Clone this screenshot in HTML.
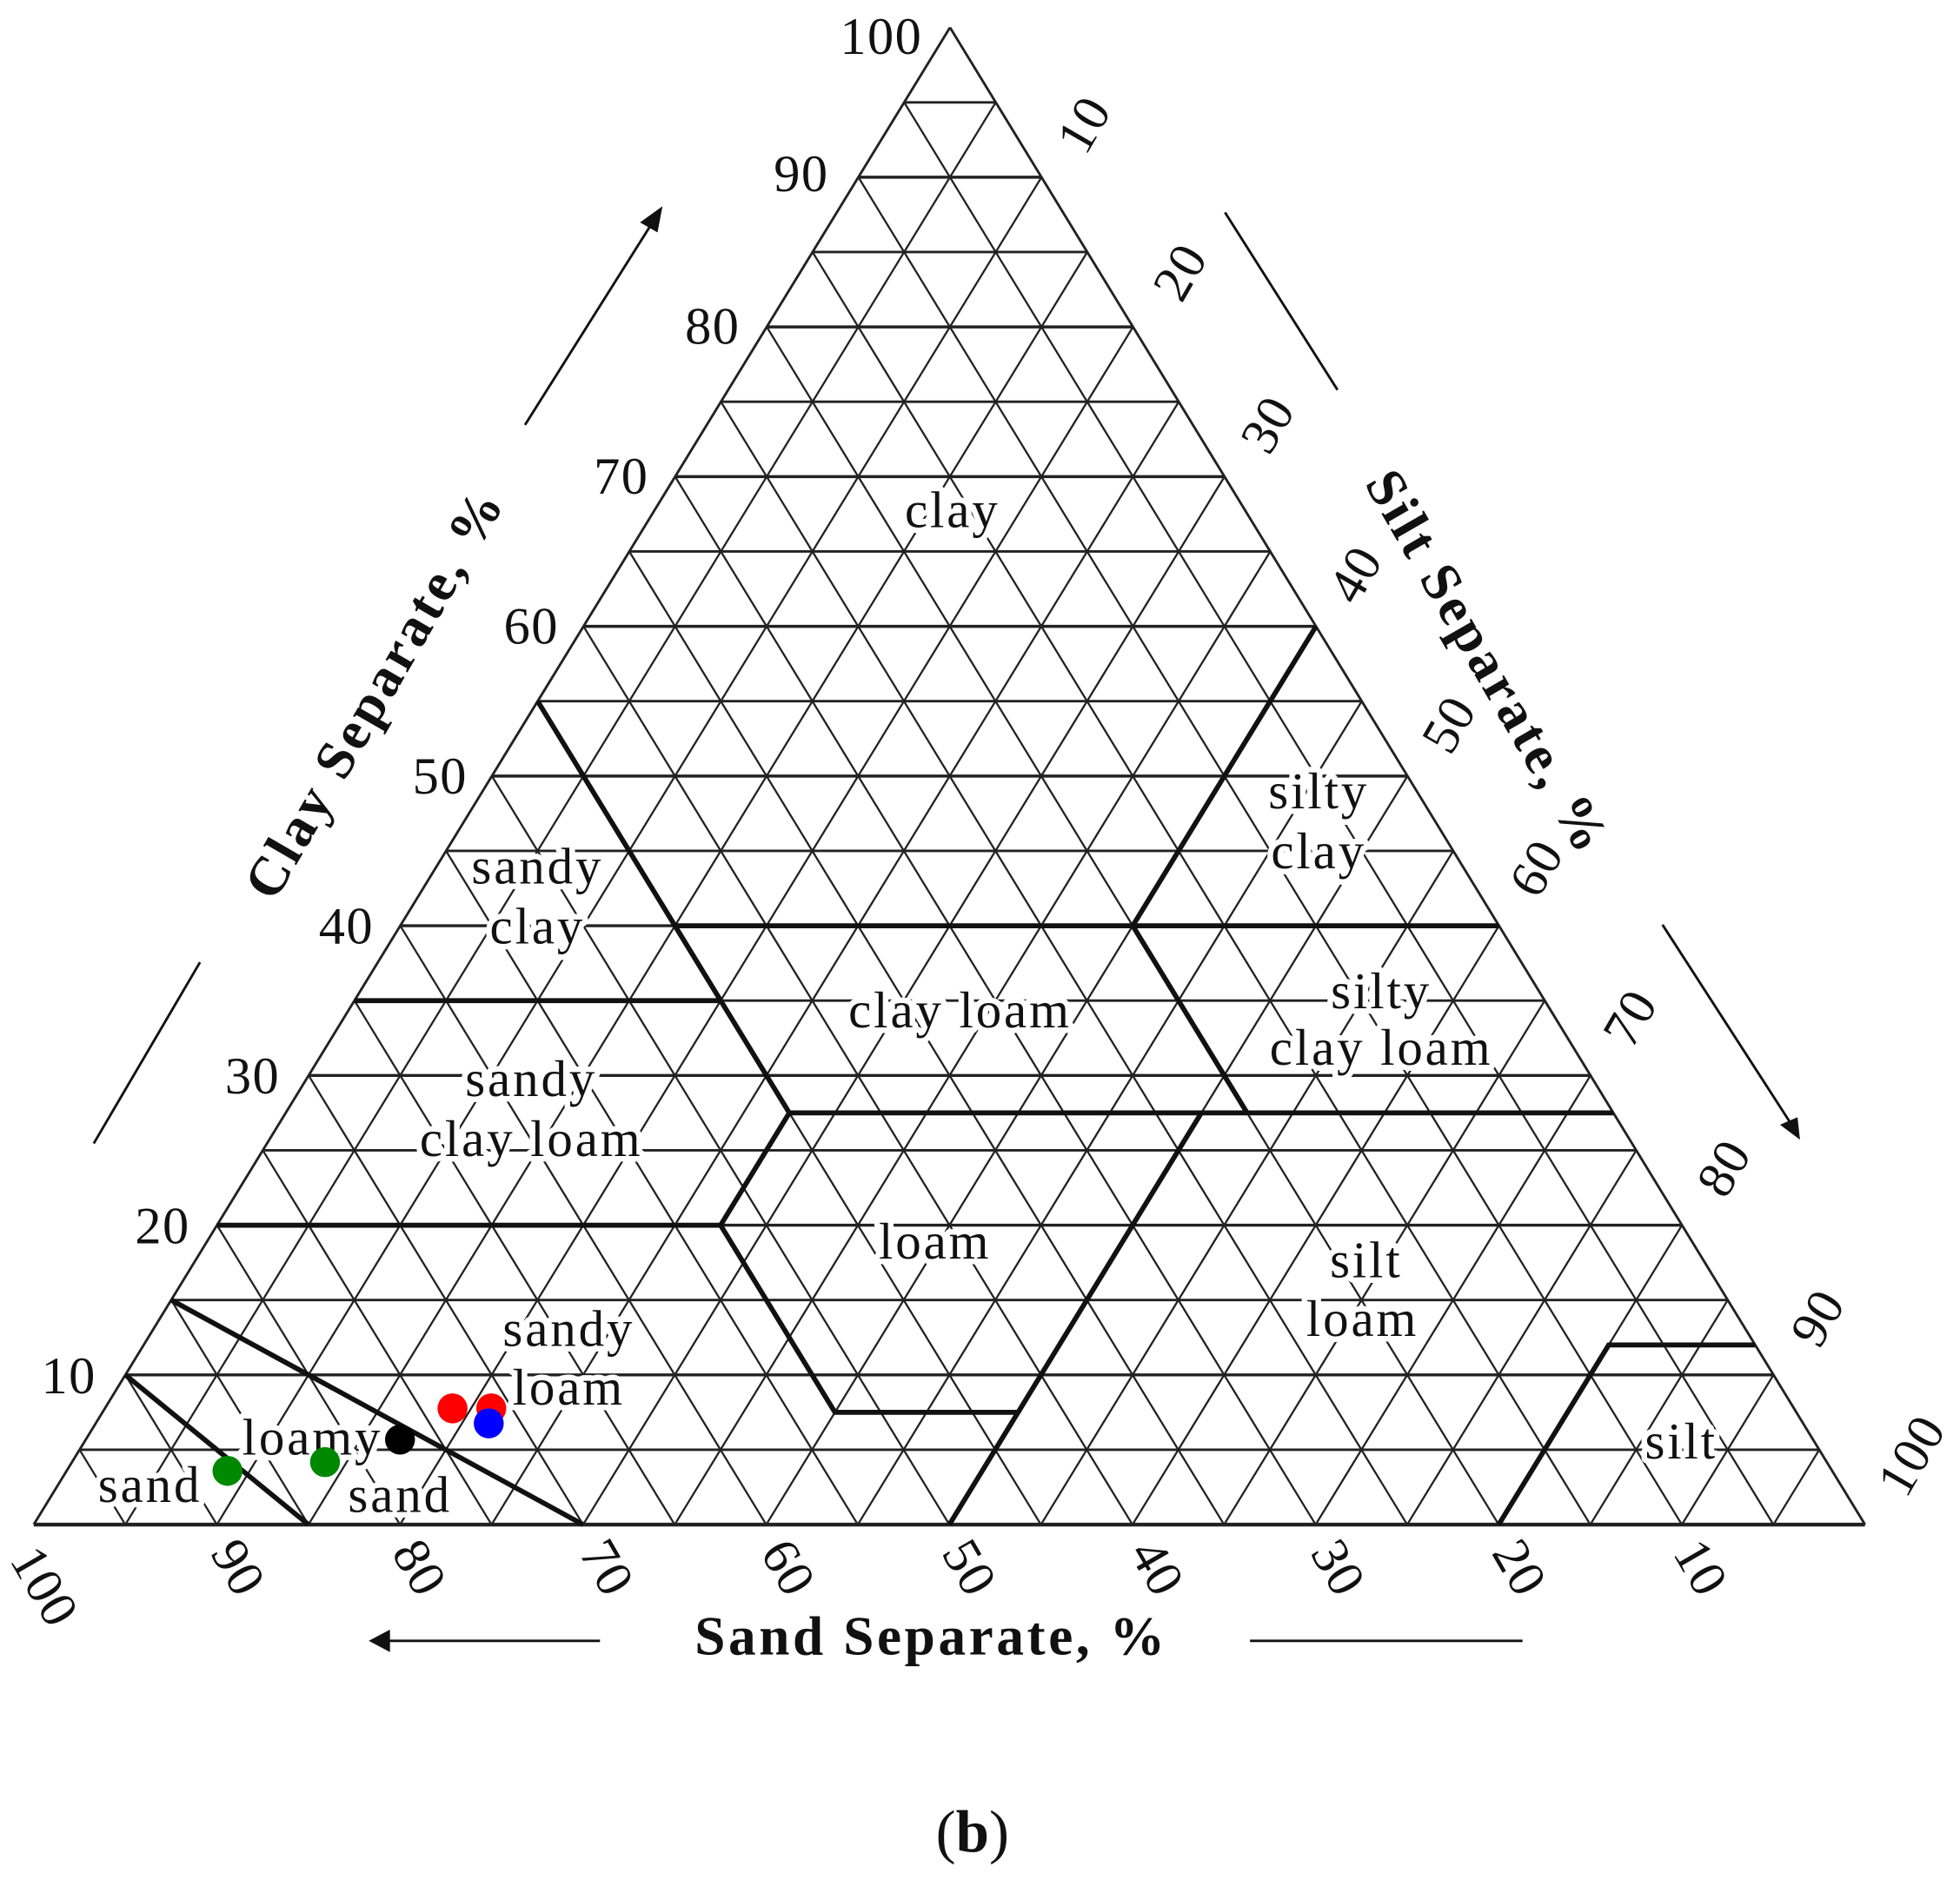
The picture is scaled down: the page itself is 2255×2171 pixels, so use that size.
<!DOCTYPE html>
<html><head><meta charset="utf-8"><style>
html,body{margin:0;padding:0;background:#fff;}
svg{display:block;}
text{font-family:"Liberation Serif",serif;fill:#111;}
.cl{font-size:41px;letter-spacing:2px;text-anchor:middle;stroke:#fff;stroke-width:9px;paint-order:stroke;stroke-linejoin:round;}
.ax{font-size:42px;letter-spacing:1px;}
.tt{font-size:44px;font-weight:bold;letter-spacing:2.5px;}
</style></head><body>
<svg id="s" width="2255" height="2171" viewBox="0 0 1568 1510" preserveAspectRatio="none" xmlns="http://www.w3.org/2000/svg">
<g id="grid" stroke="#222" stroke-width="1.6" fill="none"></g>
<g id="bold" stroke="#111" stroke-width="4" fill="none" stroke-linejoin="miter"></g>
<!-- class labels -->
<text class="cl" x="762" y="422">clay</text>
<text class="cl" x="430" y="707">sandy</text>
<text class="cl" x="430" y="755">clay</text>
<text class="cl" x="1055" y="647">silty</text>
<text class="cl" x="1055" y="695">clay</text>
<text class="cl" x="768" y="822">clay loam</text>
<text class="cl" x="1105" y="807">silty</text>
<text class="cl" x="1105" y="852">clay loam</text>
<text class="cl" x="425" y="877">sandy</text>
<text class="cl" x="425" y="925">clay loam</text>
<text class="cl" x="748" y="1007">loam</text>
<text class="cl" x="1093" y="1022">silt</text>
<text class="cl" x="1090" y="1069">loam</text>
<text class="cl" x="455" y="1077">sandy</text>
<text class="cl" x="455" y="1124">loam</text>
<text class="cl" x="250" y="1164">loamy</text>
<text class="cl" x="120" y="1202">sand</text>
<text class="cl" x="320" y="1210">sand</text>
<text class="cl" x="1345" y="1167">silt</text>
<!-- dots -->
<circle cx="362" cy="1127" r="12" fill="#f00"/>
<circle cx="393" cy="1127" r="12" fill="#f00"/>
<circle cx="391" cy="1139" r="12" fill="#00f"/>
<circle cx="320" cy="1152" r="12" fill="#000"/>
<circle cx="182" cy="1177" r="12" fill="#080"/>
<circle cx="260" cy="1170" r="12" fill="#080"/>
<!-- clay axis labels -->
<g class="ax" text-anchor="end">
<text x="738" y="43">100</text>
<text x="663" y="153">90</text>
<text x="592" y="275">80</text>
<text x="519" y="395">70</text>
<text x="447" y="515">60</text>
<text x="374" y="635">50</text>
<text x="299" y="755">40</text>
<text x="224" y="875">30</text>
<text x="152" y="995">20</text>
<text x="77" y="1115">10</text>
</g>
<!-- silt labels -->
<g class="ax" text-anchor="middle">
<text transform="translate(868,100) rotate(-60)" dy="13">10</text>
<text transform="translate(945,218) rotate(-60)" dy="13">20</text>
<text transform="translate(1015,340) rotate(-60)" dy="13">30</text>
<text transform="translate(1085,460) rotate(-60)" dy="13">40</text>
<text transform="translate(1160,580) rotate(-60)" dy="13">50</text>
<text transform="translate(1230,695) rotate(-60)" dy="13">60</text>
<text transform="translate(1305,815) rotate(-60)" dy="13">70</text>
<text transform="translate(1380,935) rotate(-60)" dy="13">80</text>
<text transform="translate(1455,1055) rotate(-60)" dy="13">90</text>
<text transform="translate(1530,1165) rotate(-60)" dy="13">100</text>
</g>
<!-- sand labels -->
<g class="ax" text-anchor="middle">
<text transform="translate(35,1270) rotate(60)" dy="13">100</text>
<text transform="translate(190,1255) rotate(60)" dy="13">90</text>
<text transform="translate(335,1255) rotate(60)" dy="13">80</text>
<text transform="translate(485,1255) rotate(60)" dy="13">70</text>
<text transform="translate(630,1255) rotate(60)" dy="13">60</text>
<text transform="translate(775,1255) rotate(60)" dy="13">50</text>
<text transform="translate(925,1255) rotate(60)" dy="13">40</text>
<text transform="translate(1070,1255) rotate(60)" dy="13">30</text>
<text transform="translate(1215,1255) rotate(60)" dy="13">20</text>
<text transform="translate(1360,1255) rotate(60)" dy="13">10</text>
</g>
<!-- titles -->
<text class="tt" text-anchor="middle" transform="translate(300,555) rotate(-60)" dy="14">Clay Separate, %</text>
<text class="tt" text-anchor="middle" transform="translate(1190,530) rotate(60)" dy="14">Silt Separate, %</text>
<text class="tt" text-anchor="middle" x="745" y="1324">Sand Separate, %</text>
<text text-anchor="middle" x="778" y="1482" style="font-size:48px">(<tspan font-weight="bold">b</tspan>)</text>
<!-- arrows -->
<g stroke="#111" stroke-width="2" fill="#111">
<line x1="420" y1="340" x2="522" y2="178"/>
<polygon points="530,165 512,178 526,186" stroke="none"/>
<line x1="75" y1="915" x2="160" y2="770"/>
<line x1="980" y1="170" x2="1070" y2="312"/>
<line x1="1330" y1="740" x2="1432" y2="898"/>
<polygon points="1440,912 1424,900 1438,894" stroke="none"/>
<line x1="480" y1="1313" x2="308" y2="1313"/>
<polygon points="295,1313 312,1304 312,1322" stroke="none"/>
<line x1="1000" y1="1313" x2="1218" y2="1313"/>
</g>
<script>
function P(sand,silt,clay){sand/=100;silt/=100;clay/=100;return [27*sand+1492*silt+760*clay,1220-1198*clay];}
var ns="http://www.w3.org/2000/svg";
function line(g,a,b,w){var l=document.createElementNS(ns,"line");l.setAttribute("x1",a[0]);l.setAttribute("y1",a[1]);l.setAttribute("x2",b[0]);l.setAttribute("y2",b[1]);if(w)l.setAttribute("stroke-width",w);g.appendChild(l);}
var g=document.getElementById("grid");
line(g,P(100,0,0),P(0,100,0),3);line(g,P(100,0,0),P(0,0,100),2);line(g,P(0,100,0),P(0,0,100),2);
for(var i=5;i<100;i+=5){
 line(g,P(100-i,0,i),P(0,100-i,i),(i%10==0)?2.4:2);
 line(g,P(i,100-i,0),P(i,0,100-i));
 line(g,P(100-i,i,0),P(0,i,100-i));
}
var b=document.getElementById("bold");
function pl(pts){var p=document.createElementNS(ns,"polyline");p.setAttribute("points",pts.map(function(q){var r=P(q[0],q[1],q[2]);return r[0]+","+r[1];}).join(" "));b.appendChild(p);}
pl([[90,0,10],[85,15,0]]);
pl([[85,0,15],[70,30,0]]);
pl([[80,0,20],[52.5,27.5,20],[52.5,40,7.5],[42.5,50,7.5],[50,50,0]]);
pl([[42.5,50,7.5],[22.5,50,27.5]]);
pl([[20,80,0],[8,80,12],[0,88,12]]);
pl([[65,0,35],[45,20,35]]);
pl([[52.5,27.5,20],[45,27.5,27.5],[45,20,35],[45,0,55]]);
pl([[45,27.5,27.5],[0,72.5,27.5]]);
pl([[20,52.5,27.5],[20,40,40]]);
pl([[45,15,40],[0,60,40]]);
pl([[0,40,60],[20,40,40]]);
</script>
</svg>
</body></html>
